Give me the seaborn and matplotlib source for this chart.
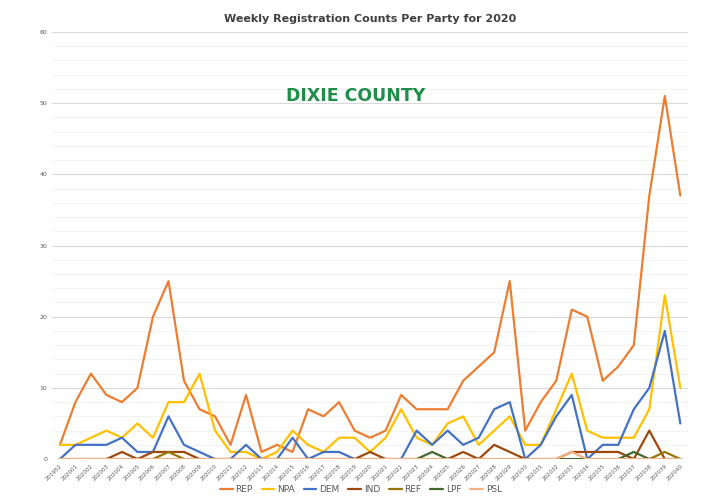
import matplotlib
matplotlib.use("Agg")
import matplotlib.pyplot as plt
from matplotlib.ticker import MultipleLocator
import pandas as pd
import seaborn as sns

weeks = ["201952"] + [f"2020{i:02d}" for i in range(1, 41)]

rep = [2, 8, 12, 9, 8, 10, 20, 25, 11, 7, 6, 2, 9, 1, 2, 1, 7, 6, 8, 4, 3,
       4, 9, 7, 7, 7, 11, 13, 15, 25, 4, 8, 11, 21, 20, 11, 13, 16, 37, 51, 37]
npa = [2, 2, 3, 4, 3, 5, 3, 8, 8, 12, 4, 1, 1, 0, 1, 4, 2, 1, 3, 3, 1,
       3, 7, 3, 2, 5, 6, 2, 4, 6, 2, 2, 7, 12, 4, 3, 3, 3, 7, 23, 10]
dem = [0, 2, 2, 2, 3, 1, 1, 6, 2, 1, 0, 0, 2, 0, 0, 3, 0, 1, 1, 0, 0,
       0, 0, 4, 2, 4, 2, 3, 7, 8, 0, 2, 6, 9, 0, 2, 2, 7, 10, 18, 5]
ind = [0, 0, 0, 0, 1, 0, 1, 1, 1, 0, 0, 0, 0, 0, 0, 0, 0, 0, 0, 0, 1,
       0, 0, 0, 0, 0, 1, 0, 2, 1, 0, 0, 0, 1, 1, 1, 1, 0, 4, 0, 0]
ref = [0, 0, 0, 0, 0, 0, 0, 1, 0, 0, 0, 0, 0, 0, 0, 0, 0, 0, 0, 0, 0,
       0, 0, 0, 0, 0, 0, 0, 0, 0, 0, 0, 0, 0, 0, 0, 0, 0, 0, 1, 0]
lpf = [0, 0, 0, 0, 0, 0, 0, 0, 0, 0, 0, 0, 0, 0, 0, 0, 0, 0, 0, 0, 0,
       0, 0, 0, 1, 0, 0, 0, 0, 0, 0, 0, 0, 0, 0, 0, 0, 1, 0, 0, 0]
psl = [0, 0, 0, 0, 0, 0, 0, 0, 0, 0, 0, 0, 0, 0, 0, 0, 0, 0, 0, 0, 0,
       0, 0, 0, 0, 0, 0, 0, 0, 0, 0, 0, 0, 1, 0, 0, 0, 0, 0, 0, 0]

parties = ["REP", "NPA", "DEM", "IND", "REF", "LPF", "PSL"]
colors = ["#ED7D31", "#FFC000", "#4472C4", "#9E480E", "#997300", "#43682B", "#F4B183"]

rows = []
for party, vals in zip(parties, [rep, npa, dem, ind, ref, lpf, psl]):
    for i, v in enumerate(vals):
        rows.append({"idx": i, "week": weeks[i], "party": party, "count": v})
df = pd.DataFrame(rows)

sns.set_style("white")
plt.rcParams['font.family'] = ['DejaVu Sans']

fig = plt.figure(figsize=(7.05, 4.99), dpi=100)
ax = fig.add_axes([0.074, 0.080, 0.902, 0.856])

sns.lineplot(data=df, x="idx", y="count", hue="party", hue_order=parties,
             palette=dict(zip(parties, colors)), linewidth=1.6, ax=ax)

ax.set_xlim(-0.5, len(weeks) - 0.5)
ax.set_ylim(0, 60)
ax.yaxis.set_major_locator(MultipleLocator(10))
ax.yaxis.set_minor_locator(MultipleLocator(2))
ax.grid(which="major", axis="y", color="#D9D9D9", linewidth=0.8)
ax.grid(which="minor", axis="y", color="#F0F0F0", linewidth=0.6)
ax.set_axisbelow(True)
ax.set_xticks(range(len(weeks)))
ax.set_xticklabels(weeks, rotation=45, ha="right", rotation_mode="anchor",
                   fontsize=4, color="#595959")
ax.tick_params(axis="y", labelsize=4.5, labelcolor="#595959", length=0)
ax.tick_params(axis="x", length=0, pad=3)
for s in ax.spines.values():
    s.set_visible(False)
ax.set_xlabel("")
ax.set_ylabel("")

ax.set_title("Weekly Registration Counts Per Party for 2020", fontsize=8,
             color="#404040", fontweight="bold", pad=7)
ax.text(0.477, 0.85, "DIXIE COUNTY", transform=ax.transAxes, ha="center",
        va="center", fontsize=12.5, fontweight="bold", color="#1E8E48")

handles, labels = ax.get_legend_handles_labels()
ax.legend(handles, labels, loc="lower center", bbox_to_anchor=(0.512, 0.0),
          bbox_transform=fig.transFigure, ncol=7, frameon=False, fontsize=6.5,
          labelcolor="#595959", handlelength=1.4, handletextpad=0.3,
          columnspacing=1.0, borderaxespad=0.15)

fig.savefig("out.png", dpi=100)
